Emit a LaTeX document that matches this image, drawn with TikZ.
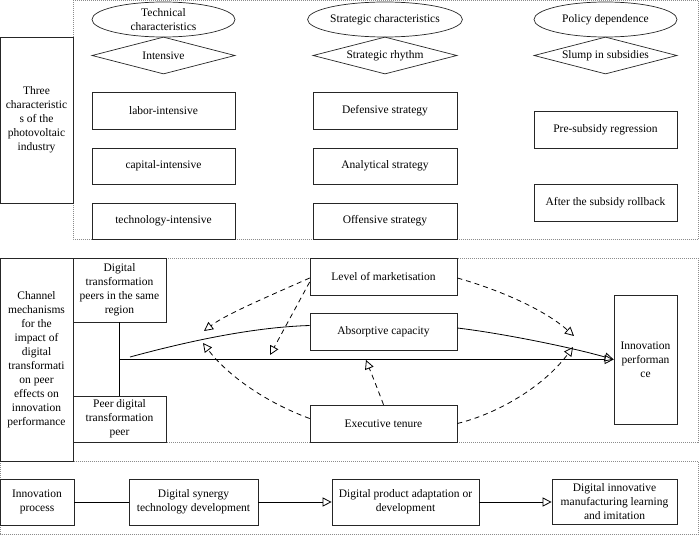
\documentclass[tikz,border=0pt]{standalone}
\usepackage{fontspec}
\setmainfont{Liberation Serif}
\usetikzlibrary{shapes.geometric,arrows.meta}
\begin{document}
\begin{tikzpicture}[x=1pt,y=-1pt,
  every node/.style={font=\fontsize{11.5}{14}\selectfont, align=center, inner sep=0pt},
  box/.style={draw=black!85, line width=0.7pt, fill=white, rectangle},
  oval/.style={draw=black!85, line width=0.7pt, fill=white, ellipse, minimum width=143pt, minimum height=35pt},
  dia/.style={draw=black!85, line width=0.7pt, fill=white, diamond, aspect=3.86, minimum width=143pt, minimum height=37pt},
  frame/.style={draw=black!45, line width=0.6pt, dash pattern=on 1pt off 1pt},
  link/.style={draw=black, line width=0.8pt},
  arr/.style={link, -{Triangle[open, length=9pt, width=9pt]}},
  darr/.style={arr, dash pattern=on 5pt off 4pt},
]
\useasboundingbox (0,0) rectangle (700,535);

% frames
\draw[frame] (73,0.5) rectangle (698,239);
\draw[frame] (73,258) rectangle (698,442);
\draw[frame] (0.5,461) rectangle (698,534);

% top section
\node[box, minimum width=73pt, minimum height=166pt] (three) at (36.5,120) {Three\\characteristic\\s of the\\photovoltaic\\industry};

\node[oval] (tech) at (163.5,19.5) {Technical\\characteristics};
\node[dia] (intens) at (163.5,55.5) {Intensive};
\node[box, minimum width=143pt, minimum height=37pt] (labor) at (163.5,110.5) {labor-intensive};
\node[box, minimum width=143pt, minimum height=36pt] (capital) at (163.5,166) {capital-intensive};
\node[box, minimum width=143pt, minimum height=36pt] (techint) at (163.5,221) {technology-intensive};

\node[oval, minimum width=144pt] (strat) at (385,19.5) {Strategic characteristics};
\node[dia, minimum width=144pt] (rhythm) at (385,55.5) {Strategic rhythm};
\node[box, minimum width=144pt, minimum height=37pt] (defens) at (385,110.5) {Defensive strategy};
\node[box, minimum width=144pt, minimum height=36pt] (analyt) at (385,166) {Analytical strategy};
\node[box, minimum width=144pt, minimum height=36pt] (offens) at (385,221) {Offensive strategy};

\node[oval] (policy) at (605.5,19.5) {Policy dependence};
\node[dia] (slump) at (605.5,55.5) {Slump in subsidies};
\node[box, minimum width=143pt, minimum height=37pt] (presub) at (605.5,129.5) {Pre-subsidy regression};
\node[box, minimum width=143pt, minimum height=37pt] (aftersub) at (605.5,202.5) {After the subsidy rollback};

% middle section
\node[box, minimum width=73pt, minimum height=203pt] (chan) at (36.5,359.5) {Channel\\mechanisms\\for the\\impact of\\digital\\transformati\\on peer\\effects on\\innovation\\performance};
\node[box, minimum width=93pt, minimum height=64pt] (peerreg) at (119.5,290) {Digital\\transformation\\peers in the same\\region};
\node[box, minimum width=93pt, minimum height=46pt] (peerdig) at (119.5,419) {Peer digital\\transformation\\peer};
\node[box, minimum width=147pt, minimum height=37pt] (lev) at (383.5,276.5) {Level of marketisation};
\node[box, minimum width=147pt, minimum height=37pt] (absorb) at (383.5,331.5) {Absorptive capacity};
\node[box, minimum width=147pt, minimum height=37pt] (exec) at (383.5,423.5) {Executive tenure};
\node[box, minimum width=63pt, minimum height=129pt] (innov) at (645.5,359.5) {Innovation\\performan\\ce};

\coordinate (J) at (119.5,359.5);
\coordinate (S) at (130,357);
\coordinate (tipa) at (204,331);
\coordinate (tipb) at (270,355);
\coordinate (tipc) at (203,343);
\coordinate (tipd) at (574,336);
\coordinate (tipe) at (573,347);
\coordinate (tipf) at (366,360);

\draw[link] (peerreg.south) -- (peerdig.north);
\draw[arr] (J) -- (innov.west);
\draw[link] (S) .. controls (200,338) and (260,327) .. ([yshift=6pt]absorb.west);
\draw[arr] ([yshift=3.5pt]absorb.east) .. controls (500,333) and (570,347) .. (innov.west);

\draw[darr] ([yshift=-1.5pt]lev.west) .. controls (260,300) and (225,315) .. (tipa);
\draw[darr] ([yshift=-5.5pt]lev.west) -- (tipb);
\draw[darr] ([yshift=5pt]exec.west) .. controls (260,400) and (225,372) .. (tipc);
\draw[darr] ([yshift=-1.5pt]lev.east) .. controls (500,290) and (545,310) .. (tipd);
\draw[darr] (exec.east) .. controls (500,413) and (545,385) .. (tipe);
\draw[darr] (exec.north) .. controls (378,390) and (372,375) .. (tipf);

% bottom section
\node[box, minimum width=74pt, minimum height=46pt] (iproc) at (37,502) {Innovation\\process};
\node[box, minimum width=129pt, minimum height=46pt] (dsyn) at (193.5,502) {Digital synergy\\technology development};
\node[box, minimum width=147pt, minimum height=46pt] (dprod) at (405.5,502) {Digital product adaptation or\\development};
\node[box, minimum width=125pt, minimum height=45pt] (dinno) at (614.5,502) {Digital innovative\\manufacturing learning\\and imitation};

\draw[link] (iproc) -- (dsyn);
\draw[arr] (dsyn) -- (dprod);
\draw[arr] (dprod) -- (dinno);
\end{tikzpicture}
\end{document}
